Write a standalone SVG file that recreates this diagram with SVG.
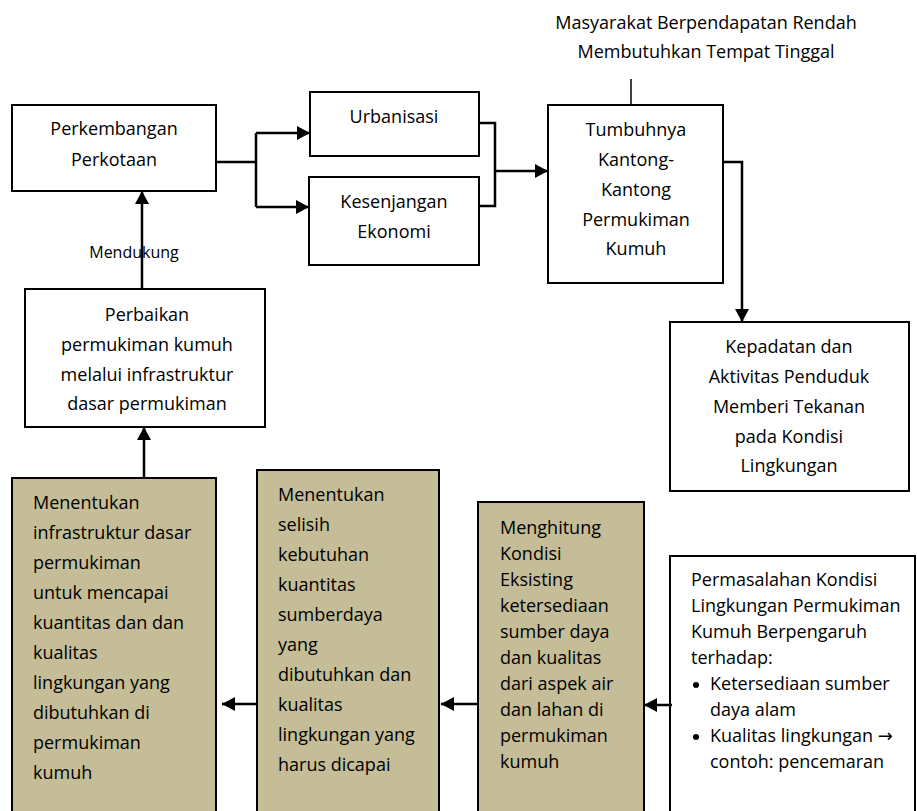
<svg xmlns="http://www.w3.org/2000/svg" width="917" height="811" viewBox="0 0 917 811">
<style>
.box{fill:#fff;stroke:#000;stroke-width:2}
.tan{fill:#c4bd97;stroke:#000;stroke-width:2}
text{font-family:"Open Sans","Noto Sans","DejaVu Sans",sans-serif;font-size:18px;fill:#000}
.c{text-anchor:middle}
.small{font-size:16px}
.conn path{fill:none;stroke:#000;stroke-width:2.5}
</style>
<defs>
<marker id="ah" markerUnits="userSpaceOnUse" markerWidth="14" markerHeight="14" refX="13" refY="7" orient="auto">
<path d="M0,0 L13,7 L0,14 z" fill="#000"/>
</marker>
</defs>
<rect width="917" height="811" fill="#fff"/>

<g id="title">
<text class="c" x="706" y="29">Masyarakat Berpendapatan Rendah</text>
<text class="c" x="706" y="58">Membutuhkan Tempat Tinggal</text>
</g>

<g id="perkembangan">
<rect class="box" x="12" y="105" width="204" height="86"/>
<text class="c" x="114" y="135">Perkembangan</text>
<text class="c" x="114" y="166">Perkotaan</text>
</g>

<g id="urbanisasi">
<rect class="box" x="310" y="92" width="169" height="64"/>
<text class="c" x="394" y="123">Urbanisasi</text>
</g>

<g id="kesenjangan">
<rect class="box" x="309" y="177" width="170" height="88"/>
<text class="c" x="394" y="208">Kesenjangan</text>
<text class="c" x="394" y="238">Ekonomi</text>
</g>

<g id="tumbuhnya">
<rect class="box" x="548" y="105" width="175" height="178"/>
<text class="c" x="636" y="136">Tumbuhnya</text>
<text class="c" x="636" y="166">Kantong-</text>
<text class="c" x="636" y="196">Kantong</text>
<text class="c" x="636" y="226">Permukiman</text>
<text class="c" x="636" y="255">Kumuh</text>
</g>

<g id="kepadatan">
<rect class="box" x="670" y="322" width="239" height="169"/>
<text class="c" x="789" y="353">Kepadatan dan</text>
<text class="c" x="789" y="383">Aktivitas Penduduk</text>
<text class="c" x="789" y="413">Memberi Tekanan</text>
<text class="c" x="789" y="443">pada Kondisi</text>
<text class="c" x="789" y="472">Lingkungan</text>
</g>

<g id="perbaikan">
<rect class="box" x="25" y="289" width="240" height="138"/>
<text class="c" x="147" y="321">Perbaikan</text>
<text class="c" x="147" y="351">permukiman kumuh</text>
<text class="c" x="147" y="381">melalui infrastruktur</text>
<text class="c" x="147" y="410">dasar permukiman</text>
</g>

<g id="box-a">
<rect class="tan" x="12" y="478" width="204" height="350"/>
<text x="33" y="509">Menentukan</text>
<text x="33" y="539">infrastruktur dasar</text>
<text x="33" y="569">permukiman</text>
<text x="33" y="599">untuk mencapai</text>
<text x="33" y="629">kuantitas dan dan</text>
<text x="33" y="659">kualitas</text>
<text x="33" y="689">lingkungan yang</text>
<text x="33" y="719">dibutuhkan di</text>
<text x="33" y="749">permukiman</text>
<text x="33" y="779">kumuh</text>
</g>

<g id="box-b">
<rect class="tan" x="257" y="470" width="182" height="360"/>
<text x="278" y="501">Menentukan</text>
<text x="278" y="531">selisih</text>
<text x="278" y="561">kebutuhan</text>
<text x="278" y="591">kuantitas</text>
<text x="278" y="621">sumberdaya</text>
<text x="278" y="651">yang</text>
<text x="278" y="681">dibutuhkan dan</text>
<text x="278" y="711">kualitas</text>
<text x="278" y="741">lingkungan yang</text>
<text x="278" y="771">harus dicapai</text>
</g>

<g id="box-c">
<rect class="tan" x="478" y="502" width="166" height="330"/>
<text x="500" y="534">Menghitung</text>
<text x="500" y="560">Kondisi</text>
<text x="500" y="586">Eksisting</text>
<text x="500" y="612">ketersediaan</text>
<text x="500" y="638">sumber daya</text>
<text x="500" y="664">dan kualitas</text>
<text x="500" y="690">dari aspek air</text>
<text x="500" y="716">dan lahan di</text>
<text x="500" y="742">permukiman</text>
<text x="500" y="768">kumuh</text>
</g>

<g id="box-d">
<rect class="box" x="670" y="556" width="245" height="280"/>
<text x="691" y="586">Permasalahan Kondisi</text>
<text x="691" y="612">Lingkungan Permukiman</text>
<text x="691" y="638">Kumuh Berpengaruh</text>
<text x="691" y="664">terhadap:</text>
<circle cx="696" cy="685" r="3"/>
<text x="710" y="690">Ketersediaan sumber</text>
<text x="710" y="716">daya alam</text>
<circle cx="696" cy="737" r="3"/>
<text x="710" y="742">Kualitas lingkungan →</text>
<text x="710" y="768">contoh: pencemaran</text>
</g>

<g id="label-mendukung">
<text class="c small" x="134" y="258">Mendukung</text>
</g>

<g id="connectors" class="conn">
<path d="M216,162 H256"/>
<path d="M256,133 V207"/>
<path d="M256,133 H310" marker-end="url(#ah)"/>
<path d="M256,207 H309" marker-end="url(#ah)"/>
<path d="M479,123 H495 V206 H479"/>
<path d="M495,171 H548" marker-end="url(#ah)"/>
<path d="M631,79 V105" style="stroke-width:1.5"/>
<path d="M723,162 H742 V322" marker-end="url(#ah)"/>
<path d="M142,289 V191" marker-end="url(#ah)"/>
<path d="M144,478 V427" marker-end="url(#ah)"/>
<path d="M257,704 H222" marker-end="url(#ah)"/>
<path d="M478,704 H441" marker-end="url(#ah)"/>
<path d="M672,705 H644" marker-end="url(#ah)"/>
</g>
</svg>
